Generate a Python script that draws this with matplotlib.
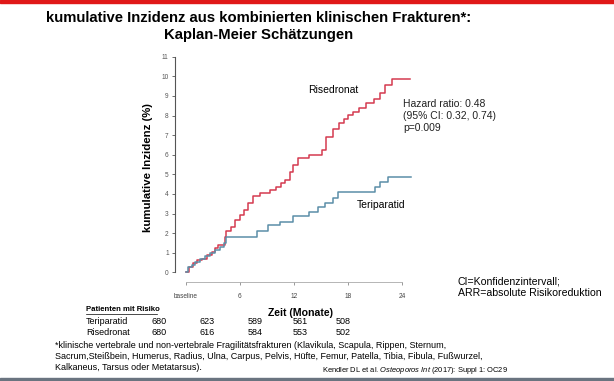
import numpy as np
import matplotlib.pyplot as plt

plt.rcParams['font.family'] = ['Liberation Sans', 'DejaVu Sans']
plt.rcParams['mathtext.fontset'] = 'custom'
plt.rcParams['mathtext.it'] = 'Liberation Sans:italic'
plt.rcParams['mathtext.rm'] = 'Liberation Sans'

# Kaplan-Meier step data (months, cumulative incidence %)
ris_t = [0, 0.4, 0.8, 1.2, 1.8, 2.3, 2.9, 3.2, 3.6, 4.35, 4.5, 5.0, 5.5, 6.0, 6.5, 6.9, 7.4, 8.2,
         9.3, 10.0, 10.6, 11.0, 11.5, 11.9, 12.4, 13.6, 15.1, 15.5, 16.3, 17.0, 17.5, 18.0, 18.5,
         19.2, 20.0, 20.8, 21.5, 22.1, 22.8, 24.8]
ris_y = [0, 0.26, 0.46, 0.63, 0.7, 0.88, 1.05, 1.22, 1.39, 1.82, 2.12, 2.33, 2.67, 2.92, 3.18, 3.52,
         3.91, 4.03, 4.2, 4.35, 4.54, 4.7, 5.13, 5.47, 5.82, 5.98, 6.24, 6.92, 7.3, 7.6, 7.8, 8.02,
         8.2, 8.37, 8.62, 8.83, 9.13, 9.55, 9.85, 9.85]
ter_t = [0, 0.2, 0.66, 1.0, 1.6, 2.1, 2.7, 3.2, 3.8, 4.2, 4.5, 7.9, 9.15, 10.4, 11.9, 13.6, 14.7,
         15.4, 16.3, 16.9, 21.0, 21.5, 22.4, 24.9]
ter_y = [0, 0.29, 0.37, 0.54, 0.66, 0.83, 0.97, 1.14, 1.31, 1.48, 1.79, 2.12, 2.41, 2.58, 2.87,
         3.09, 3.35, 3.52, 3.78, 4.11, 4.37, 4.62, 4.85, 4.85]

x_ticks = [0, 6, 12, 18, 24]
x_labels = ['baseline', '6', '12', '18', '24']
y_ticks = list(range(12))

risk_groups = ['Teriparatid', 'Risedronat']
risk_ter = [680, 623, 589, 561, 508]
risk_ris = [680, 616, 584, 553, 502]

RED = '#d43a50'
TEAL = '#5b8ea8'

W, H = 614, 381
fig = plt.figure(figsize=(W / 100, H / 100), dpi=100)

def fx(px):
    return px / W

def fy(py):
    return 1 - py / H

# top red bar and bottom grey bar
fig.patches.append(plt.Rectangle((0, fy(3)), 1, 3 / H, transform=fig.transFigure,
                                 color='#e01818', zorder=0))
fig.patches.append(plt.Rectangle((0, 0), 1, 3 / H, transform=fig.transFigure,
                                 color='#6a7480', zorder=0))

fig.text(fx(259), fy(18), 'kumulative Inzidenz aus kombinierten klinischen Frakturen*:',
         ha='center', va='center', fontsize=10.7, fontweight='bold')
fig.text(fx(259), fy(35), 'Kaplan-Meier Schätzungen', ha='center', va='center',
         fontsize=10.7, fontweight='bold')

ax = fig.add_axes([fx(174.9), fy(282.1), fx(411.5 - 174.9), (282.1 - 52.8) / H])
ax.step(ris_t, ris_y, where='post', color=RED, lw=1.1)
ax.step(ter_t, ter_y, where='post', color=TEAL, lw=1.1)
ax.set_xlim(-1.2, 25)
ax.set_ylim(-0.5, 11.2)

for s in ['top', 'right']:
    ax.spines[s].set_visible(False)
ax.spines['left'].set_bounds(0, 11)
ax.spines['left'].set_color('#555555')
ax.spines['bottom'].set_bounds(0, 24)
ax.spines['bottom'].set_color('#aaaaaa')
ax.spines['left'].set_linewidth(0.8)
ax.spines['bottom'].set_linewidth(0.6)

ax.set_xticks(x_ticks)
ax.set_xticklabels(x_labels)
ax.set_yticks(y_ticks)
ax.tick_params(axis='y', length=2.5, width=0.6, colors='#555555', labelsize=4.7, pad=2)
ax.tick_params(axis='x', length=2.5, width=0.6, colors='#888888', labelsize=4.7, pad=5,
               labelcolor='#444444')

ax.set_ylabel('kumulative Inzidenz (%)', fontsize=8.2, fontweight='bold')
ax.yaxis.set_label_coords(-0.094, 0.5)
ax.set_xlabel('Zeit (Monate)', fontsize=7.6, fontweight='bold')
ax.xaxis.set_label_coords(0.529, -0.115)

ax.text(13.5, 9.3, 'Risedronat', fontsize=7.5, va='center', ha='left')
ax.text(18.9, 3.45, 'Teriparatid', fontsize=7.5, va='center', ha='left')
ax.text(24.1, 8.0, 'Hazard ratio: 0.48\n(95% CI: 0.32, 0.74)\np=0.009', fontsize=7.5,
        va='center', ha='left', linespacing=1.25, color='#222222')

fig.text(fx(458), fy(282), 'CI=Konfidenzintervall;', fontsize=7.6, va='center')
fig.text(fx(458), fy(293.5), 'ARR=absolute Risikoreduktion', fontsize=7.6, va='center')

# patients at risk table
fig.text(fx(86), fy(309.5), 'Patienten mit Risiko', fontsize=5.6, fontweight='bold',
         va='center', ha='left')
fig.lines.append(plt.Line2D([fx(86), fx(157)], [fy(314), fy(314)], transform=fig.transFigure,
                            color='black', lw=0.5))
col_x = [159, 207, 255, 300, 343]
for row, (name, vals) in enumerate(zip(risk_groups, [risk_ter, risk_ris])):
    yy = fy(322 + row * 10.3)
    fig.text(fx(86), yy, name, fontsize=6.5, va='center', ha='left')
    for cx, v in zip(col_x, vals):
        fig.text(fx(cx), yy, str(v), fontsize=6.5, va='center', ha='center')

foot = ['*klinische vertebrale und non-vertebrale Fragilitätsfrakturen (Klavikula, Scapula, Rippen, Sternum,',
        'Sacrum,Steißbein, Humerus, Radius, Ulna, Carpus, Pelvis, Hüfte, Femur, Patella, Tibia, Fibula, Fußwurzel,',
        'Kalkaneus, Tarsus oder Metatarsus).']
for i, line in enumerate(foot):
    fig.text(fx(55), fy(345.5 + i * 10.8), line, fontsize=6.5, va='center', ha='left')

fig.text(fx(322), fy(370), r'Kendler DL et al. $\mathit{Osteoporos\ Int}$ (2017): Suppl 1: OC29',
         fontsize=5.4, va='center', ha='left')

fig.savefig('out.png', dpi=100)
